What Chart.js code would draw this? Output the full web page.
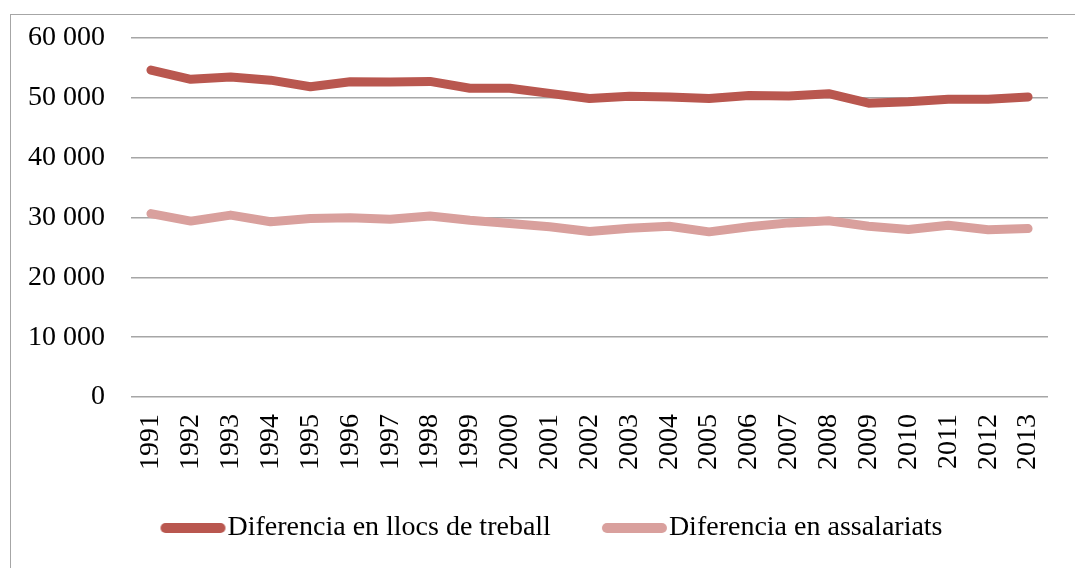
<!DOCTYPE html>
<html lang="ca">
<head>
    <meta charset="UTF-8">
    <title>Diferencia en llocs de treball i assalariats</title>
    <script src="https://cdn.jsdelivr.net/npm/chart.js"></script>
    <style>
        html, body {
            margin: 0;
            padding: 0;
            background: #ffffff;
            overflow: hidden;
            width: 1075px;
            height: 568px;
        }
        .frame {
            position: absolute;
            left: 10px;
            top: 14px;
            width: 1088px;
            height: 620px;
            border: 1.5px solid #a6a6a6;
        }
    </style>
</head>
<body>
    <div class="frame">
        <canvas id="chart" width="1088" height="620"></canvas>
    </div>

    <script>
        const years = ['1991', '1992', '1993', '1994', '1995', '1996', '1997', '1998', '1999', '2000',
            '2001', '2002', '2003', '2004', '2005', '2006', '2007', '2008', '2009', '2010',
            '2011', '2012', '2013'];

        const llocsTreball = [54650, 53100, 53500, 52950, 51850, 52700, 52650, 52750, 51600, 51600,
            50750, 49900, 50250, 50150, 49900, 50400, 50300, 50700, 49100, 49350,
            49750, 49750, 50150];

        const assalariats = [30650, 29400, 30400, 29300, 29850, 29950, 29700, 30250, 29550, 29000,
            28450, 27650, 28200, 28550, 27600, 28450, 29100, 29450, 28550, 28000,
            28700, 27950, 28150];

        const yTicks = [0, 10000, 20000, 30000, 40000, 50000, 60000];

        const serif = "'Liberation Serif', 'DejaVu Serif', serif";

        function fmt(v) {
            return String(v).replace(/\B(?=(\d{3})+(?!\d))/g, ' ');
        }

        // legend swatch: thick rounded bar sitting just left of the text
        // (image is centred on the 80px point-style box, bar drawn in its right part)
        function swatch(color) {
            const c = document.createElement('canvas');
            c.width = 106;
            c.height = 12;
            const g = c.getContext('2d');
            g.strokeStyle = color;
            g.lineWidth = 10;
            g.lineCap = 'round';
            g.beginPath();
            g.moveTo(45, 6);
            g.lineTo(100, 6);
            g.stroke();
            return c;
        }

        new Chart(document.getElementById('chart'), {
            type: 'line',
            data: {
                labels: years,
                datasets: [
                    {
                        label: 'Diferencia en llocs de treball',
                        data: llocsTreball,
                        borderColor: '#b9574f',
                        backgroundColor: '#b9574f',
                        borderWidth: 9,
                        borderCapStyle: 'round',
                        borderJoinStyle: 'round',
                        pointRadius: 0,
                        pointStyle: swatch('#b9574f'),
                        tension: 0
                    },
                    {
                        label: 'Diferencia en assalariats',
                        data: assalariats,
                        borderColor: '#d9a09d',
                        backgroundColor: '#d9a09d',
                        borderWidth: 9,
                        borderCapStyle: 'round',
                        borderJoinStyle: 'round',
                        pointRadius: 0,
                        pointStyle: swatch('#d9a09d'),
                        tension: 0
                    }
                ]
            },
            options: {
                responsive: false,
                animation: false,
                layout: { padding: { left: 17, right: 51, top: 23, bottom: 83 } },
                plugins: {
                    tooltip: { enabled: false },
                    legend: {
                        position: 'bottom',
                        labels: {
                            color: '#000000',
                            font: { family: serif, size: 28 },
                            usePointStyle: true,
                            pointStyleWidth: 80,
                            padding: 24
                        }
                    }
                },
                scales: {
                    x: {
                        offset: true,
                        grid: { display: false, drawTicks: false },
                        border: { display: false },
                        ticks: {
                            color: '#000000',
                            font: { family: serif, size: 28 },
                            minRotation: 90,
                            maxRotation: 90,
                            autoSkip: false,
                            padding: 17
                        },
                        afterFit: (s) => { s.height = 93; }
                    },
                    y: {
                        min: 0,
                        max: 60000,
                        afterBuildTicks: (s) => { s.ticks = yTicks.map(v => ({ value: v })); },
                        grid: { color: '#a6a6a6', lineWidth: 1.5, drawTicks: false },
                        border: { display: false },
                        ticks: {
                            color: '#000000',
                            font: { family: serif, size: 28 },
                            padding: 26,
                            callback: (v) => fmt(v)
                        },
                        afterFit: (s) => {
                            s.width = 103;
                            s.paddingTop = 0;
                            s.paddingBottom = 0;
                        }
                    }
                }
            }
        });
    </script>
</body>
</html>
